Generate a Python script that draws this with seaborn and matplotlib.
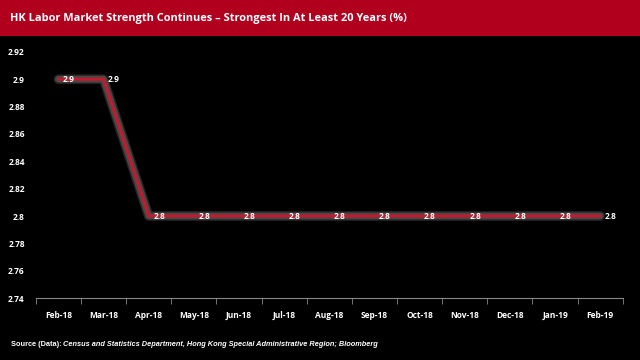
import matplotlib
matplotlib.use("Agg")
import matplotlib.pyplot as plt
import matplotlib.patheffects as pe
from matplotlib.patches import Rectangle
from matplotlib.ticker import FixedLocator
import seaborn as sns
import pandas as pd
import numpy as np

months = ["Feb-18", "Mar-18", "Apr-18", "May-18", "Jun-18", "Jul-18", "Aug-18",
          "Sep-18", "Oct-18", "Nov-18", "Dec-18", "Jan-19", "Feb-19"]
rate = [2.9, 2.9, 2.8, 2.8, 2.8, 2.8, 2.8, 2.8, 2.8, 2.8, 2.8, 2.8, 2.8]
y_ticks = [2.74, 2.76, 2.78, 2.8, 2.82, 2.84, 2.86, 2.88, 2.9, 2.92]

sns.set_style("dark")
plt.rcParams['font.family'] = ['Open Sans', 'DejaVu Sans']

df = pd.DataFrame({"x": np.arange(len(months)), "rate": rate})

fig = plt.figure(figsize=(6.4, 3.6), dpi=100, facecolor="black")
ax = fig.add_axes([0.056, 0.172, 0.917, 0.684])
ax.set_facecolor("black")

sns.lineplot(data=df, x="x", y="rate", ax=ax, color="#C41A2E", linewidth=2.2,
             path_effects=[pe.Stroke(linewidth=7, foreground="#222222"),
                           pe.Stroke(linewidth=5, foreground="#474747"),
                           pe.Normal()])

for xi, v in zip(df["x"], df["rate"]):
    ax.text(xi + 0.1, v, f"{v:g}", color="white", fontsize=6, fontweight="bold",
            ha="left", va="center")

ax.set_xlim(-0.5, len(months) - 0.5)
ax.set_ylim(2.74, 2.92)
ax.set_yticks(y_ticks)
ax.set_yticklabels([f"{t:g}" for t in y_ticks])
ax.set_xticks(np.arange(len(months)))
ax.set_xticklabels(months)
ax.xaxis.set_minor_locator(FixedLocator(np.arange(-0.5, len(months), 1.0)))
ax.tick_params(axis="x", which="major", length=0, pad=9, colors="white", labelsize=6)
ax.tick_params(axis="x", which="minor", length=4, color="#888888", direction="out", bottom=True)
ax.tick_params(axis="y", length=0, pad=8, colors="white", labelsize=6)
for lab in ax.get_xticklabels() + ax.get_yticklabels():
    lab.set_fontweight("bold")
ax.set_xlabel("")
ax.set_ylabel("")
ax.grid(False)
for s in ["top", "right", "left"]:
    ax.spines[s].set_visible(False)
ax.spines["bottom"].set_visible(True)
ax.spines["bottom"].set_color("#888888")
ax.spines["bottom"].set_linewidth(0.8)

# title band
fig.patches.append(Rectangle((0, 1 - 36 / 360), 1, 36 / 360, transform=fig.transFigure,
                             facecolor="#B0001E", edgecolor="none", zorder=0))
fig.text(10 / 640, 1 - 18 / 360, "HK Labor Market Strength Continues \u2013 Strongest In At Least 20 Years (%)",
         color="white", fontsize=7.9, fontweight="bold", ha="left", va="center")

fig.text(11 / 640, 1 - 345 / 360, "Source (Data):", color="white", fontsize=5.3,
         fontweight="bold", ha="left", va="center", family=["Liberation Sans", "DejaVu Sans"])
fig.text(63 / 640, 1 - 345 / 360,
         "Census and Statistics Department, Hong Kong Special Administrative Region; Bloomberg",
         color="white", fontsize=5.3, fontweight="bold", style="italic", ha="left", va="center",
         family=["Liberation Sans", "DejaVu Sans"])

fig.savefig("out.png", dpi=100, facecolor="black")
